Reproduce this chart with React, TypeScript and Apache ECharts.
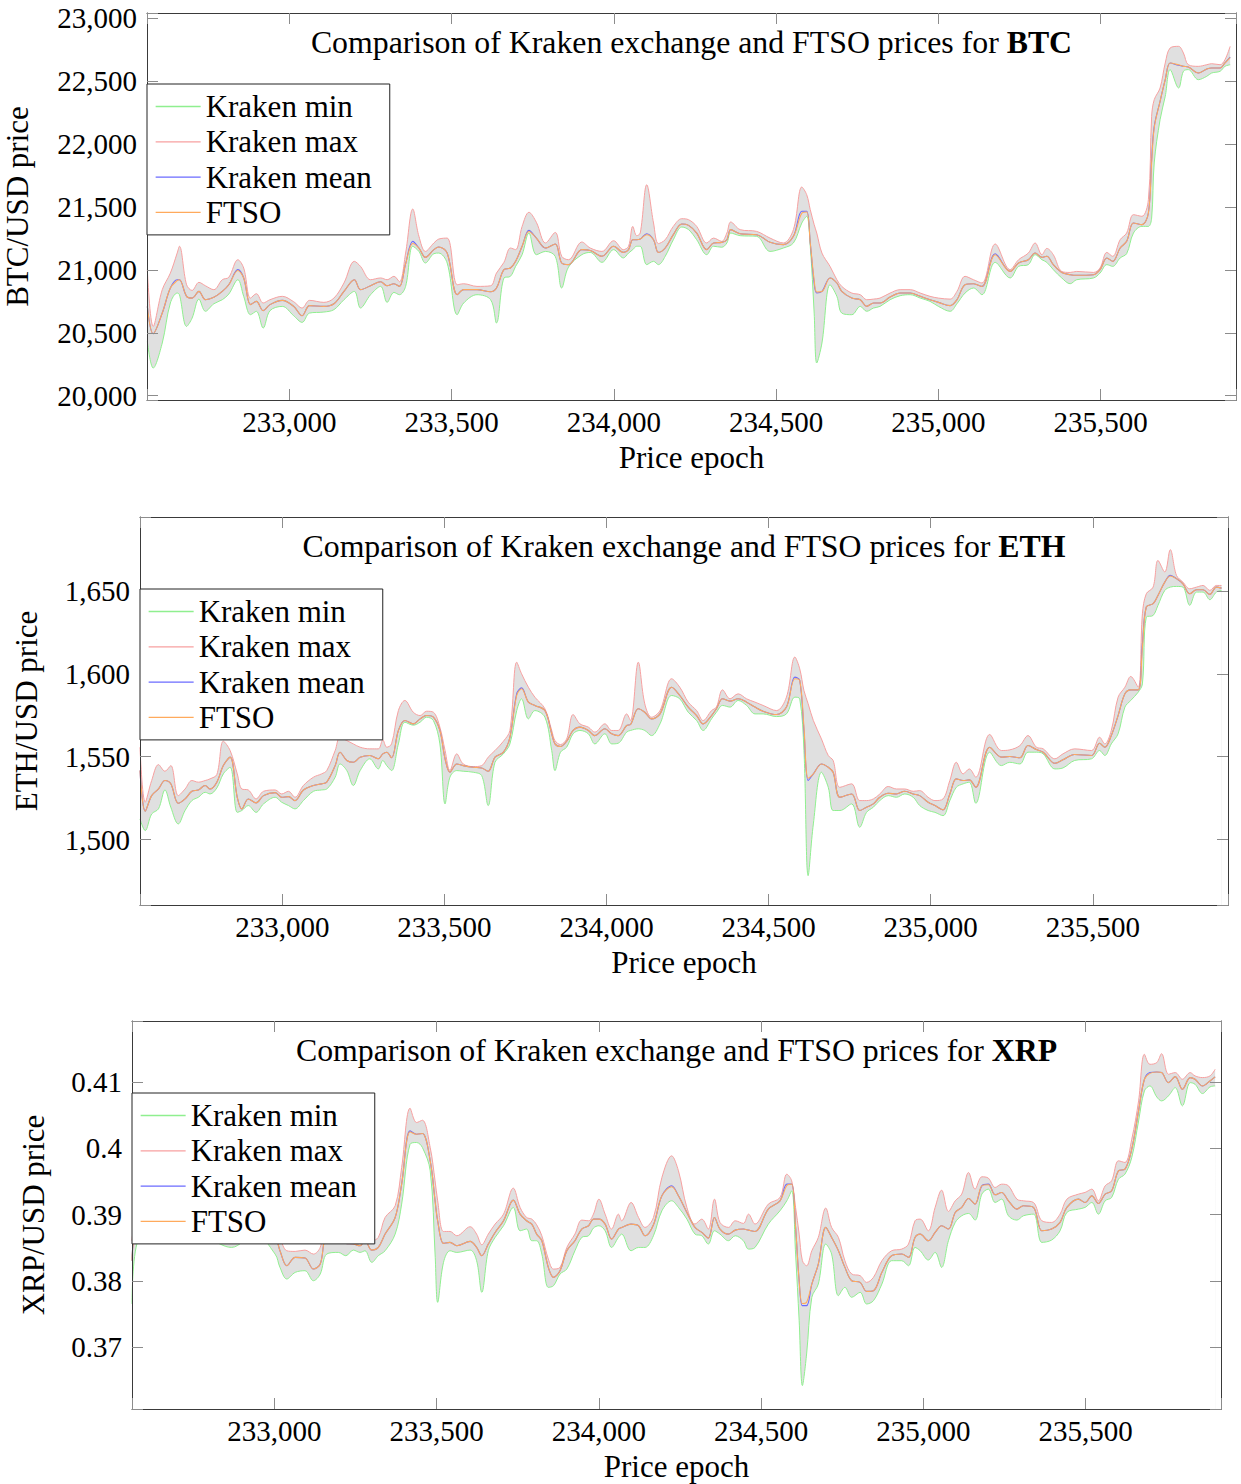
import React, { useEffect, useRef } from 'react';
import * as echarts from 'echarts';

const FONT = "'Liberation Serif', 'Times New Roman', serif";

// ---------------- BTC ----------------
const btcEpochs = [
  232562, 232580, 232608, 232633, 232654, 232661, 232683, 232700, 232721, 232741,
  232767, 232793, 232813, 232841, 232859, 232880, 232898, 232919, 232940, 232978,
  233013, 233039, 233062, 233106, 233137, 233168, 233200, 233219, 233250, 233281,
  233301, 233322, 233339, 233358, 233380, 233399, 233419, 233445, 233460, 233486,
  233517, 233537, 233578, 233620, 233638, 233661, 233681, 233697, 233717, 233738,
  233761, 233789, 233819, 233839, 233860, 233901, 233927, 233963, 233999, 234029,
  234045, 234058, 234070, 234081, 234101, 234122, 234137, 234158, 234183, 234209,
  234230, 234255, 234286, 234307, 234332, 234348, 234360, 234389, 234440, 234481,
  234522, 234553, 234579, 234594, 234605, 234617, 234625, 234641, 234666, 234687,
  234702, 234733, 234759, 234779, 234800, 234820, 234851, 234882, 234913, 234944,
  234974, 235000, 235036, 235057, 235082, 235108, 235134, 235175, 235221, 235247,
  235277, 235298, 235319, 235334, 235354, 235380, 235406, 235426, 235478, 235498,
  235519, 235537, 235560, 235580, 235601, 235627, 235647, 235657, 235665, 235683,
  235699, 235714, 235740, 235755, 235770, 235801, 235827, 235842, 235868, 235883,
  235899,
];
const btcMax = [
  21002, 20551, 20843, 20975, 21134, 21188, 20882, 20837, 20901, 20874,
  20843, 20922, 20941, 21081, 21015, 20776, 20811, 20737, 20763, 20790,
  20747, 20697, 20758, 20742, 20776, 20896, 21068, 21028, 20922, 20936,
  20922, 20949, 20906, 21134, 21484, 21267, 21147, 21214, 21245, 21253,
  20882, 20890, 20869, 20874, 20975, 21060, 21174, 21161, 21346, 21458,
  21378, 21214, 21298, 21108, 21081, 21222, 21174, 21147, 21232, 21161,
  21188, 21346, 21272, 21293, 21677, 21373, 21209, 21240, 21346, 21407,
  21399, 21346, 21214, 21253, 21227, 21293, 21381, 21320, 21306, 21253,
  21214, 21320, 21659, 21598, 21479, 21360, 21293, 21134, 21028, 20922,
  20869, 20816, 20803, 20763, 20768, 20776, 20816, 20843, 20843, 20816,
  20790, 20776, 20768, 20829, 20949, 20922, 20896, 21206, 21002, 21081,
  21134, 21214, 21121, 21171, 21121, 20988, 20980, 20988, 20980, 21015,
  21139, 21108, 21240, 21293, 21439, 21426, 21558, 22221, 22353, 22446,
  22645, 22764, 22777, 22724, 22631, 22618, 22631, 22639, 22631, 22671,
  22777,
];
const btcMean = [
  20710, 20493, 20657, 20856, 20922, 20922, 20790, 20776, 20829, 20763,
  20782, 20829, 20882, 21002, 20936, 20724, 20750, 20676, 20724, 20758,
  20710, 20636, 20716, 20710, 20731, 20829, 20922, 20843, 20874, 20906,
  20874, 20890, 20869, 21049, 21227, 21174, 21100, 21161, 21182, 21134,
  20803, 20843, 20843, 20827, 20856, 21002, 21015, 21068, 21188, 21314,
  21253, 21174, 21206, 21055, 21042, 21161, 21155, 21108, 21188, 21139,
  21161, 21240, 21240, 21245, 21288, 21240, 21139, 21174, 21280, 21365,
  21354, 21293, 21161, 21214, 21219, 21240, 21320, 21288, 21280, 21219,
  21201, 21267, 21466, 21466, 21214, 20896, 20816, 20829, 20936, 20896,
  20829, 20776, 20763, 20710, 20737, 20737, 20784, 20816, 20816, 20790,
  20763, 20742, 20716, 20763, 20882, 20890, 20869, 21129, 20988, 21055,
  21081, 21134, 21100, 21108, 21042, 20980, 20962, 20957, 20962, 21002,
  21095, 21068, 21174, 21227, 21373, 21360, 21452, 21876, 22141, 22340,
  22512, 22645, 22626, 22618, 22613, 22565, 22597, 22605, 22605, 22645,
  22692,
];
const btcMin = [
  20432, 20220, 20419, 20737, 20816, 20803, 20551, 20617, 20768, 20671,
  20731, 20763, 20808, 20922, 20790, 20644, 20671, 20538, 20676, 20710,
  20636, 20583, 20657, 20665, 20684, 20763, 20829, 20697, 20803, 20869,
  20742, 20821, 20803, 20869, 21188, 21147, 21055, 21129, 21134, 21055,
  20644, 20737, 20803, 20763, 20578, 20936, 20949, 21028, 21121, 21293,
  21121, 21147, 21108, 20856, 21023, 21121, 21139, 21060, 21161, 21095,
  21134, 21161, 21188, 21188, 21042, 21068, 21042, 21108, 21240, 21341,
  21320, 21240, 21121, 21188, 21180, 21214, 21293, 21272, 21267, 21147,
  21174, 21214, 21373, 21426, 21188, 20657, 20260, 20419, 20882, 20790,
  20657, 20644, 20710, 20671, 20697, 20710, 20763, 20795, 20803, 20776,
  20750, 20710, 20671, 20731, 20816, 20856, 20803, 21060, 20936, 21028,
  21042, 21121, 21081, 21060, 21002, 20936, 20890, 20922, 20936, 20975,
  21042, 21028, 21095, 21129, 21293, 21346, 21346, 21412, 21850, 22194,
  22380, 22592, 22446, 22579, 22592, 22512, 22539, 22565, 22579, 22618,
  22631,
];
const btcFtso = [
  20710, 20493, 20657, 20856, 20915, 20922, 20790, 20776, 20829, 20763,
  20782, 20829, 20882, 20995, 20936, 20724, 20750, 20676, 20724, 20758,
  20710, 20636, 20716, 20710, 20731, 20829, 20922, 20843, 20874, 20906,
  20874, 20890, 20869, 21049, 21210, 21174, 21100, 21161, 21182, 21134,
  20803, 20843, 20843, 20827, 20856, 21002, 21015, 21068, 21188, 21305,
  21253, 21174, 21206, 21055, 21042, 21161, 21155, 21108, 21188, 21139,
  21161, 21240, 21240, 21245, 21280, 21240, 21139, 21174, 21280, 21365,
  21354, 21293, 21161, 21214, 21219, 21240, 21320, 21288, 21280, 21219,
  21201, 21267, 21450, 21460, 21214, 20920, 20825, 20829, 20936, 20896,
  20829, 20776, 20763, 20710, 20737, 20737, 20784, 20816, 20816, 20790,
  20763, 20742, 20716, 20763, 20882, 20890, 20869, 21120, 20988, 21055,
  21081, 21134, 21100, 21108, 21042, 20980, 20962, 20957, 20962, 21002,
  21095, 21068, 21174, 21227, 21373, 21360, 21452, 21850, 22130, 22340,
  22512, 22645, 22630, 22618, 22613, 22565, 22597, 22605, 22605, 22645,
  22688,
];

// ---------------- ETH ----------------
const ethEpochs = [
  232561, 232577, 232597, 232618, 232638, 232656, 232679, 232700, 232721, 232741,
  232762, 232777, 232798, 232818, 232839, 232861, 232875, 232895, 232919, 232942,
  232978, 232998, 233019, 233039, 233065, 233096, 233121, 233137, 233163, 233178,
  233199, 233219, 233240, 233270, 233296, 233310, 233322, 233337, 233358, 233378,
  233404, 233425, 233445, 233466, 233486, 233502, 233517, 233538, 233558, 233589,
  233615, 233635, 233656, 233682, 233702, 233723, 233738, 233759, 233779, 233810,
  233831, 233841, 233858, 233877, 233897, 233918, 233944, 233964, 233995, 234016,
  234036, 234062, 234074, 234098, 234118, 234139, 234165, 234201, 234226, 234252,
  234278, 234298, 234324, 234339, 234358, 234381, 234406, 234432, 234458, 234483,
  234524, 234555, 234581, 234596, 234609, 234622, 234638, 234663, 234684, 234699,
  234720, 234756, 234781, 234802, 234823, 234843, 234869, 234894, 234920, 234946,
  234966, 234992, 235013, 235038, 235059, 235079, 235100, 235119, 235139, 235182,
  235218, 235244, 235275, 235300, 235326, 235347, 235383, 235408, 235444, 235496,
  235521, 235537, 235557, 235578, 235599, 235617, 235640, 235653, 235665, 235686,
  235701, 235722, 235739, 235758, 235778, 235799, 235820, 235840, 235861, 235881,
  235897,
];
const ethMax = [
  1555.7, 1522.5, 1535.6, 1545.2, 1541.2, 1544.6, 1526.5, 1530.5, 1535.6, 1534.6,
  1535.6, 1536.6, 1539.2, 1559.3, 1553.7, 1539.6, 1530.5, 1529.9, 1524.5, 1529.1,
  1529.9, 1527.5, 1529.1, 1525.5, 1532.6, 1537.6, 1539.6, 1541.6, 1553.7, 1561.7,
  1559.7, 1557.7, 1555.7, 1554.7, 1554.7, 1560.1, 1555.7, 1557.7, 1577.8, 1583.9,
  1576.8, 1574.8, 1577.4, 1576.8, 1567.8, 1553.7, 1541.6, 1551.7, 1545.6, 1544.0,
  1544.6, 1549.7, 1553.7, 1559.3, 1565.8, 1607.0, 1600.0, 1591.9, 1585.9, 1578.9,
  1565.8, 1559.7, 1557.3, 1560.7, 1575.4, 1569.8, 1567.8, 1564.8, 1569.8, 1565.8,
  1565.8, 1575.8, 1571.8, 1607.0, 1581.9, 1573.8, 1577.8, 1597.0, 1591.9, 1582.9,
  1577.8, 1571.8, 1577.8, 1579.9, 1590.3, 1584.9, 1587.9, 1584.9, 1582.9, 1580.9,
  1577.8, 1585.9, 1610.1, 1603.0, 1589.9, 1581.9, 1571.8, 1560.7, 1550.7, 1547.7,
  1531.5, 1533.6, 1523.5, 1523.5, 1524.5, 1527.5, 1532.0, 1530.5, 1530.5, 1529.1,
  1529.5, 1525.5, 1523.5, 1524.5, 1535.6, 1546.6, 1539.6, 1542.6, 1537.6, 1563.4,
  1553.7, 1554.1, 1556.7, 1562.7, 1555.7, 1554.7, 1548.7, 1551.7, 1554.7, 1553.7,
  1561.7, 1557.7, 1565.8, 1585.9, 1591.9, 1598.4, 1591.9, 1636.2, 1648.3, 1652.3,
  1668.4, 1661.4, 1674.9, 1659.4, 1655.3, 1651.3, 1652.3, 1653.3, 1650.3, 1653.3,
  1653.3,
];
const ethMean = [
  1541.6, 1517.1, 1526.5, 1530.5, 1535.6, 1533.6, 1521.9, 1524.5, 1529.1, 1529.9,
  1532.6, 1530.5, 1534.6, 1544.6, 1549.7, 1525.5, 1518.5, 1524.5, 1522.1, 1526.5,
  1528.3, 1525.5, 1525.9, 1523.5, 1529.9, 1532.6, 1533.6, 1534.6, 1544.6, 1552.7,
  1547.7, 1546.6, 1549.7, 1550.7, 1548.7, 1551.7, 1552.7, 1549.3, 1565.8, 1571.8,
  1569.8, 1572.8, 1574.8, 1573.8, 1565.8, 1548.7, 1540.6, 1545.6, 1544.6, 1543.6,
  1543.2, 1541.2, 1549.7, 1552.7, 1561.7, 1588.0, 1591.5, 1582.9, 1580.9, 1577.8,
  1563.8, 1557.7, 1556.1, 1559.3, 1565.8, 1567.8, 1565.8, 1562.7, 1566.8, 1563.8,
  1562.7, 1568.8, 1569.4, 1578.9, 1576.8, 1572.8, 1575.8, 1591.9, 1586.9, 1579.9,
  1574.8, 1569.8, 1574.8, 1578.9, 1584.9, 1583.5, 1584.9, 1582.9, 1579.9, 1577.4,
  1575.4, 1579.9, 1598.0, 1596.0, 1565.8, 1535.6, 1539.6, 1545.6, 1543.6, 1540.6,
  1525.5, 1527.5, 1517.5, 1519.5, 1521.5, 1525.5, 1527.9, 1527.5, 1529.1, 1527.5,
  1526.5, 1522.5, 1520.5, 1517.9, 1527.5, 1536.6, 1535.6, 1536.0, 1531.5, 1555.7,
  1549.7, 1550.1, 1549.3, 1556.7, 1554.3, 1552.7, 1546.0, 1548.1, 1551.3, 1550.7,
  1558.1, 1555.7, 1562.7, 1574.8, 1587.9, 1590.3, 1590.3, 1618.1, 1640.3, 1642.3,
  1647.3, 1655.3, 1659.4, 1657.4, 1654.3, 1648.3, 1650.7, 1650.7, 1647.9, 1652.3,
  1651.7,
];
const ethMin = [
  1512.4, 1505.4, 1515.4, 1518.5, 1529.9, 1519.5, 1509.4, 1517.5, 1523.5, 1525.5,
  1528.5, 1527.5, 1531.1, 1539.6, 1543.6, 1516.4, 1517.5, 1520.5, 1516.4, 1521.5,
  1525.5, 1522.5, 1520.5, 1518.5, 1523.5, 1529.1, 1529.9, 1530.5, 1537.6, 1545.6,
  1541.6, 1532.6, 1541.6, 1548.7, 1542.6, 1547.7, 1544.6, 1541.6, 1557.7, 1570.8,
  1569.0, 1570.8, 1573.8, 1571.8, 1557.7, 1521.5, 1537.6, 1541.6, 1541.2, 1540.6,
  1538.6, 1520.5, 1546.6, 1551.7, 1557.7, 1577.8, 1584.9, 1572.8, 1577.8, 1573.8,
  1553.7, 1541.6, 1552.7, 1555.7, 1563.8, 1565.8, 1563.8, 1557.7, 1563.8, 1557.7,
  1558.1, 1564.8, 1565.8, 1566.8, 1565.8, 1562.7, 1569.8, 1586.9, 1584.9, 1576.8,
  1571.8, 1565.8, 1572.8, 1576.8, 1580.9, 1579.9, 1583.9, 1580.9, 1575.8, 1575.8,
  1574.2, 1575.8, 1585.9, 1584.9, 1553.7, 1478.2, 1509.4, 1540.6, 1531.5, 1517.5,
  1517.5, 1521.5, 1507.4, 1516.4, 1519.5, 1523.5, 1526.5, 1525.5, 1527.5, 1525.5,
  1520.5, 1517.5, 1516.4, 1514.4, 1523.5, 1531.5, 1533.6, 1534.6, 1521.9, 1552.7,
  1544.6, 1546.6, 1545.6, 1552.7, 1552.7, 1551.7, 1542.6, 1543.2, 1547.7, 1548.7,
  1553.7, 1550.7, 1557.7, 1563.8, 1579.9, 1583.9, 1588.9, 1593.9, 1634.2, 1635.2,
  1641.3, 1650.3, 1652.3, 1652.7, 1652.3, 1641.3, 1649.3, 1649.3, 1644.7, 1649.3,
  1650.3,
];
const ethFtso = [
  1541.6, 1517.1, 1526.5, 1530.5, 1535.6, 1533.6, 1521.9, 1524.5, 1529.1, 1529.9,
  1532.6, 1530.5, 1534.6, 1544.6, 1549.7, 1525.5, 1518.5, 1524.5, 1522.1, 1526.5,
  1528.3, 1525.5, 1525.9, 1523.5, 1529.9, 1532.6, 1533.6, 1534.6, 1544.6, 1552.7,
  1547.7, 1546.6, 1549.7, 1550.7, 1548.7, 1551.7, 1552.7, 1549.3, 1565.8, 1571.8,
  1569.8, 1572.8, 1574.8, 1573.8, 1565.8, 1548.7, 1540.6, 1545.6, 1544.6, 1543.6,
  1543.2, 1541.2, 1549.7, 1552.7, 1561.7, 1587.0, 1591.0, 1582.9, 1580.9, 1577.8,
  1563.8, 1557.7, 1556.1, 1559.3, 1565.8, 1567.8, 1565.8, 1562.7, 1566.8, 1563.8,
  1562.7, 1568.8, 1569.4, 1578.9, 1576.8, 1572.8, 1575.8, 1591.9, 1586.9, 1579.9,
  1574.8, 1569.8, 1574.8, 1578.9, 1584.9, 1583.5, 1584.9, 1582.9, 1579.9, 1577.4,
  1575.4, 1579.9, 1597.0, 1596.0, 1568.0, 1537.0, 1539.6, 1545.6, 1543.6, 1540.6,
  1525.5, 1527.5, 1517.5, 1519.5, 1521.5, 1525.5, 1527.9, 1527.5, 1529.1, 1527.5,
  1526.5, 1522.5, 1520.5, 1517.9, 1527.5, 1536.6, 1535.6, 1536.0, 1531.5, 1555.7,
  1549.7, 1550.1, 1549.3, 1556.7, 1554.3, 1552.7, 1546.0, 1548.1, 1551.3, 1550.7,
  1558.1, 1555.7, 1562.7, 1574.8, 1587.9, 1590.3, 1590.3, 1616.0, 1640.3, 1642.3,
  1647.3, 1655.3, 1659.0, 1657.4, 1654.3, 1648.3, 1650.7, 1650.7, 1647.9, 1652.3,
  1651.7,
];

// ---------------- XRP ----------------
const xrpEpochs = [
  232561, 232576, 232642, 232714, 232796, 232868, 232940, 233002, 233017, 233038,
  233064, 233094, 233120, 233141, 233161, 233197, 233220, 233243, 233264, 233279,
  233300, 233320, 233341, 233372, 233392, 233418, 233438, 233456, 233480, 233495,
  233503, 233521, 233541, 233562, 233603, 233623, 233639, 233659, 233680, 233706,
  233736, 233757, 233777, 233793, 233808, 233824, 233844, 233860, 233880, 233901,
  233926, 233947, 233968, 233983, 234000, 234019, 234039, 234060, 234070, 234099,
  234122, 234142, 234168, 234194, 234224, 234245, 234271, 234296, 234317, 234337,
  234356, 234373, 234399, 234420, 234445, 234461, 234481, 234522, 234558, 234579,
  234594, 234606, 234617, 234627, 234640, 234656, 234676, 234699, 234717, 234738,
  234758, 234779, 234805, 234825, 234846, 234872, 234902, 234933, 234954, 234974,
  234990, 235015, 235036, 235056, 235077, 235098, 235118, 235139, 235159, 235180,
  235200, 235221, 235241, 235262, 235288, 235308, 235339, 235365, 235395, 235421,
  235442, 235478, 235498, 235519, 235539, 235560, 235580, 235601, 235621, 235642,
  235663, 235681, 235698, 235719, 235734, 235755, 235776, 235798, 235822, 235837,
  235860, 235883, 235899,
];
const xrpMax = [
  0.38607, 0.38908, 0.39109, 0.39008, 0.38958, 0.38908, 0.39109, 0.38858, 0.38657, 0.38456,
  0.38446, 0.38466, 0.38406, 0.38506, 0.38908, 0.38808, 0.38657, 0.38707, 0.38657, 0.38707,
  0.38607, 0.38657, 0.38958, 0.39134, 0.39711, 0.40605, 0.40389, 0.40424, 0.40012, 0.39510,
  0.39209, 0.38747, 0.38747, 0.38682, 0.38818, 0.38707, 0.38547, 0.38707, 0.38858, 0.39008,
  0.39400, 0.39109, 0.38958, 0.38933, 0.38848, 0.38682, 0.38331, 0.38180, 0.38205, 0.38506,
  0.38707, 0.38918, 0.38908, 0.39008, 0.39234, 0.39008, 0.38783, 0.39008, 0.38908, 0.39184,
  0.38958, 0.38808, 0.38958, 0.39561, 0.39887, 0.39661, 0.39109, 0.38858, 0.38933, 0.38783,
  0.39234, 0.38883, 0.38808, 0.38908, 0.38868, 0.39008, 0.38858, 0.39159, 0.39259, 0.39611,
  0.39510, 0.39109, 0.38707, 0.38306, 0.38230, 0.38456, 0.38657, 0.39099, 0.38808, 0.38657,
  0.38306, 0.38105, 0.38080, 0.37979, 0.38055, 0.38306, 0.38456, 0.38481, 0.38557, 0.38908,
  0.38933, 0.38757, 0.39109, 0.39370, 0.39049, 0.39209, 0.39310, 0.39636, 0.39385, 0.39571,
  0.39551, 0.39410, 0.39460, 0.39435, 0.39234, 0.39209, 0.39184, 0.38908, 0.38883, 0.39008,
  0.39234, 0.39310, 0.39335, 0.39385, 0.39209, 0.39435, 0.39510, 0.39812, 0.39787, 0.40138,
  0.40715, 0.41418, 0.41267, 0.41293, 0.41428, 0.41117, 0.41142, 0.41042, 0.41142, 0.41092,
  0.41067, 0.41092, 0.41192,
];
const xrpMean = [
  0.38306, 0.38757, 0.38958, 0.38858, 0.38808, 0.38707, 0.38908, 0.38657, 0.38456, 0.38230,
  0.38356, 0.38346, 0.38180, 0.38255, 0.38657, 0.38607, 0.38567, 0.38557, 0.38532, 0.38607,
  0.38466, 0.38506, 0.38707, 0.38958, 0.39460, 0.40263, 0.40213, 0.40223, 0.39812, 0.39209,
  0.38908, 0.38567, 0.38582, 0.38532, 0.38597, 0.38506, 0.38381, 0.38557, 0.38732, 0.38908,
  0.39219, 0.39008, 0.38908, 0.38858, 0.38707, 0.38607, 0.38205, 0.38055, 0.38155, 0.38456,
  0.38607, 0.38783, 0.38833, 0.38933, 0.38933, 0.38858, 0.38632, 0.38783, 0.38808, 0.38858,
  0.38833, 0.38682, 0.38848, 0.39284, 0.39435, 0.39284, 0.39034, 0.38808, 0.38732, 0.38647,
  0.38958, 0.38783, 0.38707, 0.38767, 0.38783, 0.38767, 0.38747, 0.39084, 0.39209, 0.39460,
  0.39460, 0.38808, 0.38004, 0.37628, 0.37628, 0.37954, 0.38255, 0.38808, 0.38657, 0.38456,
  0.38205, 0.38004, 0.37979, 0.37844, 0.37854, 0.38130, 0.38381, 0.38406, 0.38356, 0.38657,
  0.38707, 0.38607, 0.38732, 0.38833, 0.38783, 0.39034, 0.39109, 0.39244, 0.39159, 0.39435,
  0.39460, 0.39300, 0.39335, 0.39209, 0.39084, 0.39134, 0.39109, 0.38757, 0.38783, 0.38883,
  0.39109, 0.39234, 0.39184, 0.39284, 0.39169, 0.39310, 0.39360, 0.39661, 0.39686, 0.39987,
  0.40565, 0.41042, 0.41142, 0.41152, 0.41142, 0.40991, 0.41082, 0.40891, 0.41067, 0.41042,
  0.40941, 0.41016, 0.41077,
];
const xrpMin = [
  0.37653, 0.38557, 0.38808, 0.38707, 0.38632, 0.38506, 0.38707, 0.38406, 0.38205, 0.38030,
  0.38130, 0.38155, 0.38004, 0.38105, 0.38406, 0.38431, 0.38381, 0.38466, 0.38431, 0.38456,
  0.38281, 0.38381, 0.38456, 0.38707, 0.39159, 0.40063, 0.40088, 0.40012, 0.39661, 0.38406,
  0.37678, 0.38281, 0.38456, 0.38431, 0.38466, 0.38306, 0.37829, 0.38456, 0.38657, 0.38833,
  0.39109, 0.38757, 0.38783, 0.38607, 0.38607, 0.38406, 0.37904, 0.37929, 0.38105, 0.38180,
  0.38456, 0.38657, 0.38682, 0.38798, 0.38833, 0.38757, 0.38506, 0.38657, 0.38707, 0.38456,
  0.38506, 0.38506, 0.38682, 0.39059, 0.39209, 0.39109, 0.38933, 0.38707, 0.38682, 0.38557,
  0.38757, 0.38707, 0.38607, 0.38682, 0.38607, 0.38481, 0.38506, 0.38858, 0.39059, 0.39209,
  0.39360, 0.38406, 0.37402, 0.36423, 0.36900, 0.37754, 0.37954, 0.38557, 0.38406, 0.37779,
  0.37904, 0.37754, 0.37829, 0.37653, 0.37703, 0.37954, 0.38306, 0.38306, 0.38230, 0.38506,
  0.38456, 0.38316, 0.38431, 0.38205, 0.38607, 0.38883, 0.38983, 0.39018, 0.38918, 0.39310,
  0.39385, 0.39184, 0.39234, 0.38983, 0.38918, 0.38983, 0.39008, 0.38582, 0.38617, 0.38757,
  0.39034, 0.39084, 0.39109, 0.39184, 0.39008, 0.39209, 0.39259, 0.39536, 0.39611, 0.39862,
  0.40414, 0.40866, 0.40941, 0.40775, 0.40715, 0.40791, 0.40916, 0.40640, 0.40991, 0.40966,
  0.40826, 0.40926, 0.40941,
];
const xrpFtso = [
  0.38306, 0.38757, 0.38958, 0.38858, 0.38808, 0.38707, 0.38908, 0.38657, 0.38456, 0.38230,
  0.38356, 0.38346, 0.38180, 0.38255, 0.38657, 0.38607, 0.38567, 0.38557, 0.38532, 0.38607,
  0.38466, 0.38506, 0.38707, 0.38958, 0.39460, 0.40250, 0.40213, 0.40223, 0.39812, 0.39209,
  0.38908, 0.38567, 0.38582, 0.38532, 0.38597, 0.38506, 0.38381, 0.38557, 0.38732, 0.38908,
  0.39219, 0.39008, 0.38908, 0.38858, 0.38707, 0.38607, 0.38205, 0.38055, 0.38155, 0.38456,
  0.38607, 0.38783, 0.38833, 0.38933, 0.38933, 0.38858, 0.38632, 0.38783, 0.38808, 0.38858,
  0.38833, 0.38682, 0.38848, 0.39284, 0.39420, 0.39284, 0.39034, 0.38808, 0.38732, 0.38647,
  0.38958, 0.38783, 0.38707, 0.38767, 0.38783, 0.38767, 0.38747, 0.39084, 0.39209, 0.39440,
  0.39460, 0.38808, 0.38004, 0.37660, 0.37680, 0.37954, 0.38255, 0.38808, 0.38657, 0.38456,
  0.38205, 0.38004, 0.37979, 0.37844, 0.37854, 0.38130, 0.38381, 0.38406, 0.38356, 0.38657,
  0.38707, 0.38607, 0.38732, 0.38833, 0.38783, 0.39034, 0.39109, 0.39244, 0.39159, 0.39435,
  0.39450, 0.39300, 0.39335, 0.39209, 0.39084, 0.39134, 0.39109, 0.38757, 0.38783, 0.38883,
  0.39109, 0.39234, 0.39184, 0.39284, 0.39169, 0.39310, 0.39360, 0.39661, 0.39686, 0.39987,
  0.40565, 0.41042, 0.41130, 0.41152, 0.41142, 0.40991, 0.41082, 0.40891, 0.41067, 0.41042,
  0.40941, 0.41016, 0.41077,
];

const legendNames = ['Kraken min', 'Kraken max', 'Kraken mean', 'FTSO'];
const xLabelName = 'Price epoch';
const titlePrefix = 'Comparison of Kraken exchange and FTSO prices for ';

// axis ranges (values)
const epochRange = [232561, 235917];
const epochStep = 500;

const COL = {
  min: '#8fef8f',
  max: '#f7a0a0',
  mean: '#6b6bff',
  ftso: '#ffaa5c',
  band: '#e0e0e0',
  frame: '#3a3a3a',
  tick: '#8c8c8c',
};
const legendColors = [COL.min, COL.max, COL.mean, COL.ftso];

function pairs(xs: number[], ys: number[]) {
  return xs.map((x, i) => [x, ys[i]]);
}
function commas(v: number) {
  return String(Math.round(v)).replace(/\B(?=(\d{3})+(?!\d))/g, ',');
}
function isMultiple(v: number, step: number) {
  const r = v / step;
  return Math.abs(r - Math.round(r)) < 1e-6;
}

const PANELS = [
  {
    sym: 'BTC', yName: 'BTC/USD price',
    epochs: btcEpochs, min: btcMin, max: btcMax, mean: btcMean, ftso: btcFtso,
    yRange: [19966, 23042], yStep: 500, yFmt: (v: number) => commas(v),
    grid: { left: 147, top: 13, width: 1089, height: 387 },
    legend: { left: 147, top: 84 },
    title: { y: 42 },
    yNameGap: 114,
  },
  {
    sym: 'ETH', yName: 'ETH/USD price',
    epochs: ethEpochs, min: ethMin, max: ethMax, mean: ethMean, ftso: ethFtso,
    yRange: [1460.5, 1694.6], yStep: 50, yFmt: (v: number) => commas(v),
    grid: { left: 140, top: 517, width: 1088, height: 388 },
    legend: { left: 140, top: 589 },
    title: { y: 546 },
    yNameGap: 98,
  },
  {
    sym: 'XRP', yName: 'XRP/USD price',
    epochs: xrpEpochs, min: xrpMin, max: xrpMax, mean: xrpMean, ftso: xrpFtso,
    yRange: [0.3607, 0.4192], yStep: 0.01, yFmt: (v: number) => String(parseFloat(v.toFixed(3))),
    grid: { left: 132, top: 1021, width: 1089, height: 388 },
    legend: { left: 132, top: 1093 },
    title: { y: 1050.5 },
    yNameGap: 83,
  },
];

function buildOption() {
  const grids: any[] = [];
  const xAxes: any[] = [];
  const yAxes: any[] = [];
  const series: any[] = [];
  const legends: any[] = [];
  const graphics: any[] = [];

  const tickStyle = { show: true, inside: true, length: 11, lineStyle: { color: COL.tick, width: 1 } };
  const lineStyleAxis = { show: true, onZero: false, lineStyle: { color: COL.frame, width: 1 } };

  PANELS.forEach((p, c) => {
    grids.push({ ...p.grid, show: false, containLabel: false, outerBoundsMode: 'none' });

    const xCommon = {
      type: 'value', gridIndex: c, min: epochRange[0], max: epochRange[1],
      splitNumber: 7, minInterval: epochStep, maxInterval: epochStep,
      splitLine: { show: false }, axisLine: lineStyleAxis, axisTick: tickStyle, z: 10,
    };
    xAxes.push({
      ...xCommon, position: 'bottom',
      axisLabel: {
        show: true, margin: 7, fontFamily: FONT, fontSize: 29, color: '#000',
        formatter: (v: number) => (isMultiple(v, epochStep) ? commas(v) : ''),
      },
      name: xLabelName, nameLocation: 'middle', nameGap: 42,
      nameTextStyle: { fontFamily: FONT, fontSize: 31, color: '#000' },
    });
    xAxes.push({ ...xCommon, position: 'top', axisLabel: { show: false } });

    const yCommon = {
      type: 'value', gridIndex: c, min: p.yRange[0], max: p.yRange[1],
      splitNumber: 5, minInterval: p.yStep, maxInterval: p.yStep, scale: true,
      splitLine: { show: false }, axisLine: lineStyleAxis, axisTick: tickStyle, z: 10,
    };
    yAxes.push({
      ...yCommon, position: 'left',
      axisLabel: {
        show: true, margin: 10, fontFamily: FONT, fontSize: 29, color: '#000',
        formatter: (v: number) => (isMultiple(v, p.yStep) ? p.yFmt(v) : ''),
      },
      name: p.yName, nameLocation: 'middle', nameRotate: 90, nameGap: p.yNameGap,
      nameTextStyle: { fontFamily: FONT, fontSize: 31, color: '#000' },
    });
    yAxes.push({ ...yCommon, position: 'right', axisLabel: { show: false } });

    const base = {
      type: 'line', xAxisIndex: 2 * c, yAxisIndex: 2 * c, smooth: 0.35,
      symbol: 'none', showSymbol: false, silent: true, z: 2,
    };
    series.push({
      ...base, name: 'Kraken max', data: pairs(p.epochs, p.max),
      lineStyle: { color: COL.max, width: 1 }, itemStyle: { color: COL.max },
      areaStyle: { color: COL.band, opacity: 1, origin: 'start' },
    });
    series.push({
      ...base, name: 'Kraken min', data: pairs(p.epochs, p.min),
      lineStyle: { color: COL.min, width: 1 }, itemStyle: { color: COL.min },
      areaStyle: { color: '#ffffff', opacity: 1, origin: 'start' },
    });
    series.push({
      ...base, name: 'Kraken mean', data: pairs(p.epochs, p.mean),
      lineStyle: { color: COL.mean, width: 1.1 }, itemStyle: { color: COL.mean },
    });
    series.push({
      ...base, name: 'FTSO', data: pairs(p.epochs, p.ftso),
      lineStyle: { color: COL.ftso, width: 1.1 }, itemStyle: { color: COL.ftso },
    });

    legends.push({
      left: p.legend.left, top: p.legend.top, orient: 'vertical',
      padding: [7, 18, 7, 8], itemWidth: 45, itemHeight: 31, itemGap: 4.3,
      borderColor: '#222', borderWidth: 1, backgroundColor: '#fff', borderRadius: 0,
      textStyle: { fontFamily: FONT, fontSize: 31, color: '#000', lineHeight: 31 },
      itemStyle: { opacity: 0, borderWidth: 0 },
      data: legendNames.map((name, i) => ({
        name,
        itemStyle: { opacity: 0, borderWidth: 0 },
        lineStyle: { color: legendColors[i], width: 1.3, opacity: 1 },
      })),
      selectedMode: false, z: 20,
    });

    const cx = p.grid.left + p.grid.width / 2;
    graphics.push({
      type: 'text', x: cx, y: p.title.y, z: 30,
      style: {
        text: `{n|${titlePrefix}}{b|${p.sym}}`,
        rich: {
          n: { fontFamily: FONT, fontSize: 31.8, fill: '#000' },
          b: { fontFamily: FONT, fontSize: 31.8, fontWeight: 'bold', fill: '#000' },
        },
        fill: '#000',
        align: 'center', verticalAlign: 'middle',
        textAlign: 'center', textVerticalAlign: 'middle',
      },
    });
  });

  return {
    animation: false,
    backgroundColor: '#ffffff',
    textStyle: { fontFamily: FONT },
    grid: grids,
    xAxis: xAxes,
    yAxis: yAxes,
    legend: legends,
    series,
    graphic: graphics,
  };
}

export default function App() {
  const ref = useRef<HTMLDivElement>(null);
  useEffect(() => {
    if (!ref.current) return;
    const chart = echarts.init(ref.current, null, { renderer: 'svg' });
    chart.setOption(buildOption() as any);
    return () => chart.dispose();
  }, []);
  return (
    <div
      ref={ref}
      style={{ position: 'absolute', left: 0, top: 0, width: 1241, height: 1484, background: '#fff' }}
    />
  );
}
